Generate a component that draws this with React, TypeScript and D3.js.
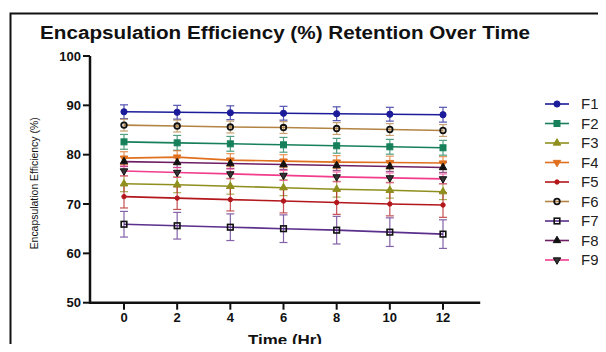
import React from 'react';
import * as d3 from 'd3';

// EE% retention over 12 h, nine formulations, mean ± SD.
const hours = [0, 2, 4, 6, 8, 10, 12];
const seriesNames = ['F1', 'F2', 'F3', 'F4', 'F5', 'F6', 'F7', 'F8', 'F9'];

const f1 = [88.7, 88.6, 88.5, 88.4, 88.3, 88.2, 88.1];
const f2 = [82.6, 82.4, 82.2, 82.0, 81.8, 81.6, 81.4];
const f3 = [74.1, 73.9, 73.6, 73.3, 73.0, 72.8, 72.5];
const f4 = [79.3, 79.5, 78.9, 78.7, 78.5, 78.4, 78.3];
const f5 = [71.5, 71.2, 70.9, 70.6, 70.3, 70.0, 69.8];
const f6 = [86.0, 85.8, 85.6, 85.5, 85.3, 85.1, 84.9];
const f7 = [65.9, 65.6, 65.3, 65.0, 64.7, 64.3, 63.9];
const f8 = [78.6, 78.4, 78.2, 78.0, 77.8, 77.6, 77.4];
const f9 = [76.7, 76.4, 76.1, 75.8, 75.5, 75.3, 75.1];

const sd1 = [1.4, 1.4, 1.4, 1.4, 1.4, 1.4, 1.5];
const sd2 = [1.5, 1.5, 1.5, 1.5, 1.5, 1.5, 1.5];
const sd3 = [1.6, 1.6, 1.6, 1.6, 1.6, 1.6, 1.6];
const sd4 = [1.3, 1.3, 1.3, 1.3, 1.3, 1.3, 1.3];
const sd5 = [2.3, 2.3, 2.3, 2.4, 2.4, 2.4, 2.5];
const sd6 = [1.2, 1.2, 1.2, 1.2, 1.2, 1.2, 1.2];
const sd7 = [2.6, 2.7, 2.7, 2.8, 2.8, 2.9, 2.9];
const sd8 = [1.0, 1.0, 1.0, 1.0, 1.0, 1.0, 1.0];
const sd9 = [1.0, 1.0, 1.0, 1.0, 1.0, 1.0, 1.0];

const means = [f1, f2, f3, f4, f5, f6, f7, f8, f9];
const sds = [sd1, sd2, sd3, sd4, sd5, sd6, sd7, sd8, sd9];

const yTicks = [50, 60, 70, 80, 90, 100];
const xTicks = [0, 2, 4, 6, 8, 10, 12];

const lineColors = ['#1c1c9a', '#17805a', '#8f8f1e', '#e0701e', '#b3171c', '#b38444', '#5b2f8c', '#6e1f63', '#f23c8c'];
const markerFill = ['#1c1c9a', '#17805a', '#8f8f1e', '#e0701e', '#b3171c', 'none', 'none', '#111', '#333'];
const markerStroke = ['#1c1c9a', '#17805a', '#8f8f1e', '#e0701e', '#b3171c', '#111', '#111', '#111', '#111'];
const markerKind = ['circle', 'square', 'triUp', 'triDown', 'dot', 'circle', 'square', 'triUp', 'triDown'];

const FONT = '"Liberation Sans", Arial, sans-serif';

function Marker({ kind, cx, cy, fill, stroke }) {
  if (kind === 'circle') {
    return <circle cx={cx} cy={cy} r={fill === 'none' ? 2.8 : 3.1} fill={fill} stroke={stroke} strokeWidth={fill === 'none' ? 1.8 : 1} />;
  }
  if (kind === 'dot') {
    return <circle cx={cx} cy={cy} r={2.2} fill={fill} stroke={stroke} />;
  }
  if (kind === 'square') {
    const s = fill === 'none' ? 5.6 : 6;
    return <rect x={cx - s / 2} y={cy - s / 2} width={s} height={s} fill={fill} stroke={stroke} strokeWidth={fill === 'none' ? 1.6 : 1} />;
  }
  const sym = d3.symbol().type(d3.symbolTriangle).size(24)();
  const rot = kind === 'triDown' ? 180 : 0;
  return <path d={sym ?? ''} transform={`translate(${cx},${cy}) rotate(${rot})`} fill={fill} stroke={stroke} strokeWidth={1} />;
}

export default function App() {
  const x = d3.scaleLinear().domain([0, 12]).range([124, 443]);
  const y = d3.scaleLinear().domain([50, 100]).range([302.7, 56]);
  const xAxisEnd = x(13.4);
  const yAxisX = 90;
  const line = d3.line<number>().x((_, i) => x(hours[i])).y((v) => y(v));
  const legendY = d3.scalePoint<string>().domain(seriesNames).range([104, 260]);

  return (
    <div style={{ margin: -8 }}>
      <svg width={606} height={352} style={{ display: 'block', fontFamily: FONT }}>
        <rect width={606} height={352} fill="#fff" />
        <path d="M10.5,400 V13.5 H620" fill="none" stroke="#111" strokeWidth={2} />
        <text x={40} y={39} fontSize={18} fontWeight="bold" fill="#111" textLength={490} lengthAdjust="spacingAndGlyphs">
          Encapsulation Efficiency (%) Retention Over Time
        </text>

        {/* error bars */}
        {means.map((m, si) => (
          <g key={`eb${si}`} stroke={lineColors[si]} strokeWidth={1.2} opacity={0.75}>
            {m.map((v, i) => {
              const cx = x(hours[i]);
              const lo = y(v - sds[si][i]);
              const hi = y(v + sds[si][i]);
              return (
                <g key={i}>
                  <line x1={cx} x2={cx} y1={lo} y2={hi} />
                  <line x1={cx - 4} x2={cx + 4} y1={lo} y2={lo} />
                  <line x1={cx - 4} x2={cx + 4} y1={hi} y2={hi} />
                </g>
              );
            })}
          </g>
        ))}

        {/* lines */}
        {means.map((m, si) => (
          <path key={`ln${si}`} d={line(m) ?? ''} fill="none" stroke={lineColors[si]} strokeWidth={1.6} />
        ))}

        {/* markers */}
        {means.map((m, si) => (
          <g key={`mk${si}`}>
            {m.map((v, i) => (
              <Marker key={i} kind={markerKind[si]} cx={x(hours[i])} cy={y(v)} fill={markerFill[si]} stroke={markerStroke[si]} />
            ))}
          </g>
        ))}

        {/* y axis */}
        <line x1={yAxisX} x2={yAxisX} y1={y(100)} y2={y(50) + 1} stroke="#111" strokeWidth={2.5} />
        {yTicks.map((t) => (
          <g key={t}>
            <line x1={yAxisX - 7} x2={yAxisX} y1={y(t)} y2={y(t)} stroke="#111" strokeWidth={2} />
            <text x={yAxisX - 9} y={y(t)} dy="0.35em" textAnchor="end" fontSize={13} fontWeight="bold" fill="#111">
              {t}
            </text>
          </g>
        ))}
        <text
          transform={`translate(38,${(y(50) + y(100)) / 2 + 4}) rotate(-90)`}
          textAnchor="middle"
          fontSize={10.5}
          fill="#111"
          textLength={132}
          lengthAdjust="spacingAndGlyphs"
        >
          Encapsulation Efficiency (%)
        </text>

        {/* x axis */}
        <line x1={yAxisX - 1} x2={xAxisEnd} y1={y(50)} y2={y(50)} stroke="#111" strokeWidth={2.5} />
        {xTicks.map((t) => (
          <g key={t}>
            <line x1={x(t)} x2={x(t)} y1={y(50)} y2={y(50) + 7} stroke="#111" strokeWidth={2} />
            <text x={x(t)} y={y(50) + 19} textAnchor="middle" fontSize={13} fontWeight="bold" fill="#111">
              {t}
            </text>
          </g>
        ))}
        <text x={285} y={345} textAnchor="middle" fontSize={14} fontWeight="bold" fill="#111" textLength={74} lengthAdjust="spacingAndGlyphs">
          Time (Hr)
        </text>

        {/* legend */}
        {seriesNames.map((name, si) => {
          const ly = legendY(name) ?? 0;
          return (
            <g key={name}>
              <line x1={545} x2={569} y1={ly} y2={ly} stroke={lineColors[si]} strokeWidth={1.6} />
              <Marker kind={markerKind[si]} cx={557} cy={ly} fill={markerFill[si]} stroke={markerStroke[si]} />
              <text x={581} y={ly} dy="0.36em" fontSize={15} fill="#222">
                {name}
              </text>
            </g>
          );
        })}
      </svg>
    </div>
  );
}
